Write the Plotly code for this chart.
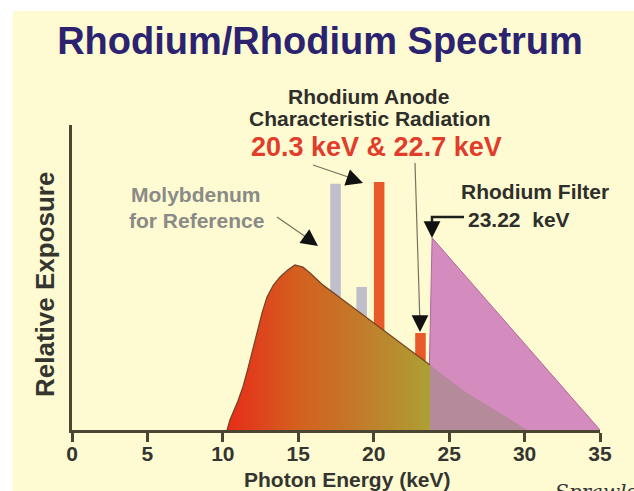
import plotly.graph_objects as go

# ---------------- data ----------------
spec_kev = [10.28, 10.47, 11.0, 11.34, 11.67, 12.26, 12.6, 12.93, 13.35, 13.79, 14.32,
            14.78, 15.31, 15.78, 16.64, 18.1, 19.56, 21.74, 23.73]
spec_rel = [0, 3.3, 9.5, 14.3, 20.3, 31.8, 38.4, 43.6, 47.5, 50.2, 52.5,
            54.1, 53.4, 51.5, 47.5, 42.1, 36.7, 28.6, 21.3]
tail_kev = [23.73, 26.18, 28.37, 29.7, 30.16]
tail_rel = [21.3, 12.1, 5.6, 1.3, 0]
filter_kev = [23.6, 23.87, 35.0]
filter_rel = [0, 63.0, 0]
mo_kev = [17.47, 19.2]
mo_rel = [80.7, 46.9]
rh_kev = [20.36, 23.1]
rh_rel = [81.3, 31.8]
x_ticks = [0, 5, 10, 15, 20, 25, 30, 35]

# ---------------- layout helpers (pixel -> paper) ----------------
L, R, T, B = 72, 600, 125, 430
W, H = 634, 491
def xp(px):
    return (px - L) / (R - L)
def yp(py):
    return (B - py) / (B - T)
def kx(px):
    return (px - L) / (R - L) * 35
def ky(py):
    return (B - py) / (B - T) * 100

BG = "#fefbd3"
FONT = "Liberation Sans"
DARK = "#2e2e2a"

fig = go.Figure()

fig.add_trace(go.Bar(x=mo_kev, y=mo_rel, width=0.7, marker=dict(color="#bfbfcb", line_width=0),
                     hoverinfo="skip"))
fig.add_trace(go.Bar(x=rh_kev, y=rh_rel, width=0.7, marker=dict(color="#e85a29", line_width=0),
                     hoverinfo="skip"))

# rhodium filter transmission (pink)
fig.add_trace(go.Scatter(x=filter_kev, y=filter_rel, fill="toself", mode="lines",
                         fillcolor="#d48bbd", line=dict(color="#b0679a", width=1),
                         hoverinfo="skip"))
# tail of unfiltered spectrum beyond the edge
fig.add_trace(go.Scatter(x=tail_kev + [tail_kev[0]], y=tail_rel + [0], fill="toself", mode="lines",
                         fillcolor="#b58a9b", line=dict(width=0), hoverinfo="skip"))
# main spectrum with gradient fill
fig.add_trace(go.Scatter(x=spec_kev + [spec_kev[-1]], y=spec_rel + [0], fill="toself", mode="lines",
                         line=dict(width=0),
                         fillgradient=dict(type="horizontal",
                                           colorscale=[[0, "#e82c1a"], [0.35, "#d3601f"],
                                                       [0.65, "#c37a2a"], [1, "#aca033"]]),
                         hoverinfo="skip"))
fig.add_trace(go.Scatter(x=spec_kev, y=spec_rel, mode="lines",
                         line=dict(color="#7a4524", width=1.3), hoverinfo="skip"))

shapes = []
# white border strips
shapes.append(dict(type="rect", xref="paper", yref="paper", x0=xp(0), x1=xp(13), y0=yp(H), y1=yp(0),
                   fillcolor="white", line_width=0, layer="below"))
shapes.append(dict(type="rect", xref="paper", yref="paper", x0=xp(0), x1=xp(W), y0=yp(11), y1=yp(0),
                   fillcolor="white", line_width=0, layer="below"))

# thin pointer lines
def pline(x0, y0, x1, y1, color="#77725c", w=1.2):
    shapes.append(dict(type="line", xref="x", yref="y", x0=kx(x0), y0=ky(y0), x1=kx(x1), y1=ky(y1),
                       line=dict(color=color, width=w)))
pline(277, 217, 316, 244)
pline(313, 165, 360, 181)
pline(415, 163, 420, 325)
# filter elbow
shapes.append(dict(type="path", xref="x", yref="y",
                   path=f"M {kx(464)} {ky(217)} L {kx(432)} {ky(217)} L {kx(432)} {ky(230)}",
                   line=dict(color="#1e1e1a", width=2.5)))

annotations = []
def head(px, py, dx, dy):
    annotations.append(dict(xref="x", yref="y", x=kx(px), y=ky(py), ax=dx, ay=dy, text="",
                            showarrow=True, arrowhead=2, arrowsize=2.4, arrowwidth=1.4,
                            arrowcolor="#111111", standoff=0))
head(318, 246, -9, -6.5)
head(363, 183, -10, -3.5)
head(420, 332, 0, -11)
head(432, 238, 0, -11)

def txt(text, px, py, size=21, color=DARK, xanchor="center", **kw):
    annotations.append(dict(xref="paper", yref="paper", x=xp(px), y=yp(py), text=text,
                            showarrow=False, xanchor=xanchor, yanchor="middle",
                            font=dict(family=FONT, size=size, color=color, weight="bold"), **kw))

txt("Rhodium Anode", 368, 96)
txt("Characteristic Radiation", 370, 118)
txt("20.3 keV & 22.7 keV", 376, 147, size=27, color="#e23c2b")
txt("Molybdenum", 196, 194, color="#8a8a86")
txt("for Reference", 196, 220, color="#8a8a86")
txt("Rhodium Filter", 459, 191, xanchor="left")
txt("23.22  keV", 466, 219, xanchor="left")
txt("Photon Energy (keV)", 347, 479, color="#353530")
txt("Relative Exposure", 45, 285, size=26, color="#353530", textangle=-90)
annotations.append(dict(xref="paper", yref="paper", x=xp(553), y=yp(478), text="Sprawls",
                        showarrow=False, xanchor="left", yanchor="top",
                        font=dict(family="DejaVu Serif", size=20, color="#333", style="italic")))

fig.update_layout(
    width=W, height=H,
    margin=dict(l=L, r=W - R, t=T, b=H - B, pad=0),
    paper_bgcolor=BG, plot_bgcolor=BG,
    showlegend=False, barmode="overlay",
    title=dict(text="Rhodium/Rhodium Spectrum", x=320 / W, xref="container", xanchor="center",
               y=1 - 41 / H, yref="container", yanchor="middle",
               font=dict(family=FONT, size=38, color="#2c2370", weight="bold")),
    xaxis=dict(range=[0, 35], tickvals=x_ticks, ticks="outside", ticklen=9, tickwidth=2.5,
               tickcolor="#4a4632", showline=True, linewidth=3, linecolor="#4a4632",
               showgrid=False, zeroline=False, ticklabelstandoff=-6,
               tickfont=dict(family=FONT, size=21, color="#353530", weight="bold")),
    yaxis=dict(range=[0, 100], showline=True, linewidth=3, linecolor="#4a4632",
               showgrid=False, zeroline=False, showticklabels=False, ticks=""),
    shapes=shapes, annotations=annotations,
)

fig.write_html("out.html", config={"displayModeBar": False},
               post_script="document.body.style.margin='0';document.body.style.overflow='hidden';")
